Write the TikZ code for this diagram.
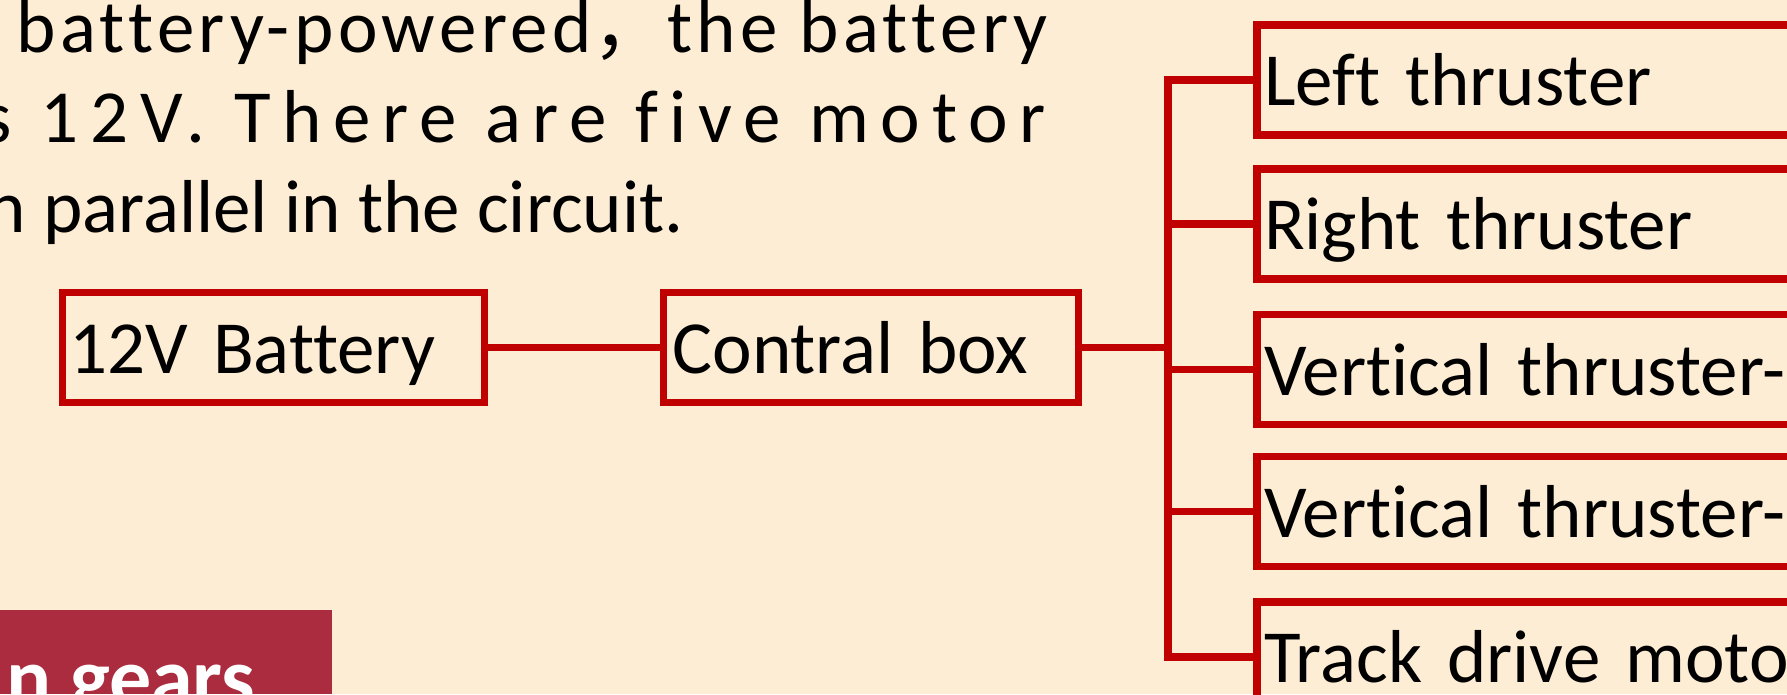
\documentclass[tikz,border=0pt]{standalone}
\usepackage{fontspec}
\setmainfont{Carlito}[Ligatures={NoCommon,NoContextual}]
\newfontfamily\cjk{Noto Sans CJK SC}
\usepackage{tikz}
\definecolor{slidebg}{HTML}{FDEDD4}
\definecolor{wirered}{HTML}{C00000}
\definecolor{barred}{HTML}{AB2C3E}
\newcommand{\boxfont}{\fontsize{75}{90}\selectfont}
\newcommand{\parafont}{\fontsize{75}{90}\selectfont}

\begin{document}
\begin{tikzpicture}[x=1pt,y=-1pt,
  unitbox/.style={draw=wirered,line width=7.5pt,anchor=west,outer sep=0pt,minimum height=110pt,
    text height=55pt,text depth=4pt,inner ysep=0pt,inner xsep=7pt,align=left,font=\boxfont},
  wire/.style={draw=wirered,line width=7.5pt},
  paraline/.style={anchor=base west,inner sep=0pt}]
  \useasboundingbox (0,0) rectangle (1787,694);
  \clip (0,0) rectangle (1787,694);
  \fill[slidebg] (0,0) rectangle (1787,694);
  % text above the circuit
  \node[paraline,font={\parafont\addfontfeatures{LetterSpace=6}}] (line1) at (16,52) {battery-powered{\cjk ，}the battery};
  \node[paraline,font={\parafont\addfontfeatures{LetterSpace=15.5}}] (line2) at (40.6,142) {\llap{s }12V. There are five motor};
  \node[paraline,font=\parafont] (line3) at (43,232) {\llap{n }parallel in the circuit.};
  % title bar at the bottom
  \fill[barred] (0,610) rectangle (332,694);
  \node[paraline,text=white,font=\fontsize{84}{100}\selectfont\bfseries] (gears) at (70,706) {\llap{n }gears};
  % boxes
  \node[unitbox,text width=408pt] (batt) at (62.5,347.5) {12V Battery};
  \node[unitbox,text width=397pt,inner xsep=9pt] (ctrl) at (663.5,347.5) {Contral box};
  \foreach \i/\y/\t in {1/80/Left thruster,2/224/Right thruster,3/369.5/Vertical thruster-,4/511.5/Vertical thruster-,5/657/Track drive motor}
    \node[unitbox,text width=686pt] (mot\i) at (1257,\y) {\t};
  % wiring
  \coordinate (bus) at (1168,347.5);
  \draw[wire] (batt.east) -- (ctrl.west);
  \draw[wire] (ctrl.east) -- (bus);
  \draw[wire] (mot1.west) -| (bus) |- (mot5.west);
  \foreach \i in {2,3,4}
    \draw[wire] (mot\i.west) -- (mot\i.west -| bus);
\end{tikzpicture}
\end{document}
